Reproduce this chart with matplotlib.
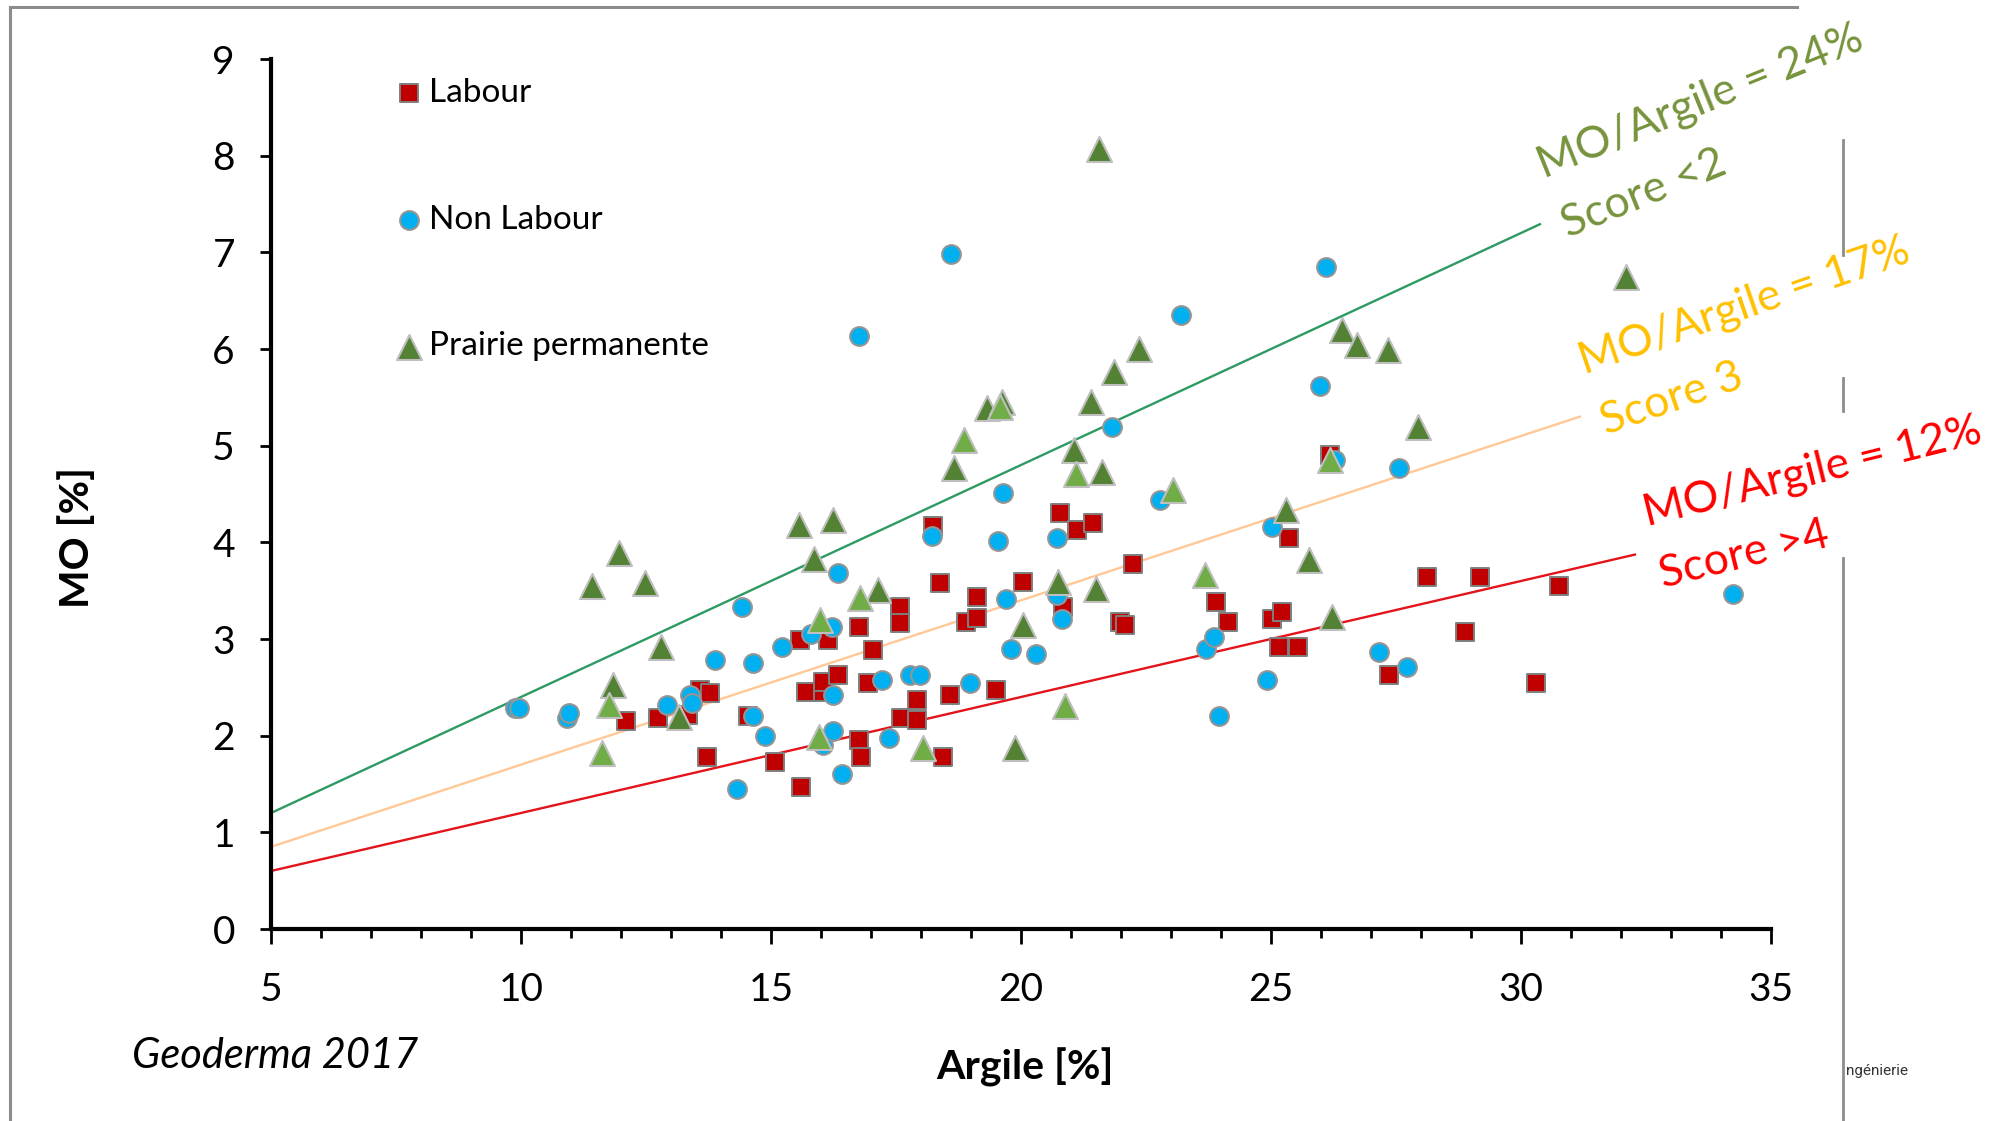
import matplotlib
matplotlib.use("Agg")
import matplotlib.pyplot as plt
from matplotlib.lines import Line2D
import numpy as np

plt.rcParams['font.family'] = ['Lato', 'DejaVu Sans']

# ---------------- data ----------------
labour_x = [12.1, 12.74, 13.34, 13.58, 13.78, 13.72, 14.54, 15.08, 15.6, 15.58, 16.14, 15.7, 16.04, 16.04,
            16.34, 16.76, 16.94, 17.04, 16.76, 16.8, 17.58, 17.58, 17.6, 17.92, 17.92, 18.24, 18.38, 18.44,
            18.58, 18.9, 19.12, 19.12, 19.5, 20.04, 20.78, 20.84, 21.12, 21.44, 21.98, 22.08, 22.24, 23.9,
            24.14, 25.02, 25.16, 25.22, 25.36, 25.54, 26.18, 27.36, 28.12, 28.88, 29.18, 30.3, 30.76]
labour_y = [2.15, 2.18, 2.21, 2.47, 2.44, 1.78, 2.2, 1.73, 1.47, 2.99, 2.99, 2.45, 2.45, 2.56,
            2.63, 3.12, 2.55, 2.89, 1.96, 1.78, 3.33, 3.17, 2.18, 2.37, 2.16, 4.17, 3.58, 1.78,
            2.42, 3.18, 3.43, 3.22, 2.47, 3.59, 4.30, 3.33, 4.13, 4.2, 3.18, 3.15, 3.78, 3.38,
            3.18, 3.21, 2.92, 3.28, 4.04, 2.92, 4.9, 2.63, 3.64, 3.07, 3.64, 2.55, 3.55]

nonlabour_x = [9.88, 9.96, 10.92, 10.96, 12.92, 13.38, 13.42, 13.88, 14.32, 14.42, 14.64, 14.64, 14.88,
               15.22, 15.8, 16.22, 16.04, 16.24, 16.24, 16.34, 16.42, 16.76, 17.22, 17.36, 17.78, 17.98,
               18.22, 18.6, 18.98, 19.54, 19.64, 19.7, 19.8, 20.3, 20.72, 20.72, 20.82, 21.82, 22.78,
               23.2, 23.7, 23.86, 23.96, 24.92, 25.02, 25.98, 26.1, 26.28, 27.16, 27.56, 27.72, 34.24]
nonlabour_y = [2.29, 2.29, 2.18, 2.23, 2.32, 2.42, 2.34, 2.78, 1.45, 3.33, 2.75, 2.2, 2.0,
               2.92, 3.05, 3.12, 1.9, 2.05, 2.42, 3.68, 1.6, 6.13, 2.58, 1.98, 2.63, 2.63,
               4.07, 6.98, 2.55, 4.01, 4.51, 3.41, 2.9, 2.84, 4.04, 3.46, 3.21, 5.19, 4.44,
               6.35, 2.9, 3.02, 2.2, 2.58, 4.16, 5.62, 6.85, 4.85, 2.87, 4.77, 2.71, 3.47]

prairie_x = [11.42, 11.84, 11.96, 12.48, 12.8, 13.16, 15.56, 15.86, 16.24, 17.14, 18.66, 19.32, 19.62,
             20.04, 19.88, 20.74, 21.06, 21.4, 21.5, 21.56, 21.62, 21.86, 22.36, 25.3, 25.76, 26.22,
             26.42, 26.72, 27.34, 27.94, 32.1]
prairie_y = [3.55, 2.52, 3.89, 3.58, 2.92, 2.19, 4.18, 3.83, 4.23, 3.51, 4.77, 5.39, 5.45,
             3.14, 1.87, 3.59, 4.96, 5.45, 3.52, 8.07, 4.73, 5.76, 6.0, 4.33, 3.82, 3.23,
             6.2, 6.04, 5.99, 5.19, 6.75]

prairie2_x = [11.62, 11.76, 15.96, 15.98, 16.78, 18.04, 18.86, 19.58, 20.88, 21.1, 23.04, 23.68, 26.18]
prairie2_y = [1.82, 2.32, 1.99, 3.2, 3.42, 1.87, 5.06, 5.4, 2.31, 4.71, 4.54, 3.66, 4.85]

ratios = [0.24, 0.17, 0.12]
ratio_end_x = [30.4, 31.2, 32.3]
ratio_labels = ["MO/Argile = 24%\nScore <2", "MO/Argile = 17%\nScore 3", "MO/Argile = 12%\nScore >4"]

x_ticks = [5, 10, 15, 20, 25, 30, 35]
y_ticks = [0, 1, 2, 3, 4, 5, 6, 7, 8, 9]

# ---------------- figure ----------------
W, H = 2004, 1121
fig = plt.figure(figsize=(W / 100, H / 100), dpi=100)
fig.patch.set_facecolor('white')


def fx(px):
    return px / W


def fy(py):
    return 1 - py / H


ax = fig.add_axes([fx(271), fy(929), (1771 - 271) / W, (929 - 59) / H])

line_colors = ['#2E9A63', '#FFC896', '#E4121A']
text_colors = ['#77933C', '#FFC000', '#FF0000']
for r, xe, c in zip(ratios, ratio_end_x, line_colors):
    xs = np.array([5.0, xe])
    ax.plot(xs, r * xs, color=c, lw=1.7, zorder=2, solid_capstyle='butt')

ax.scatter(labour_x, labour_y, marker='s', s=13 ** 2, c='#C00000', edgecolors='#7F7F7F',
           linewidths=1.4, zorder=3, label='Labour')
ax.scatter(nonlabour_x, nonlabour_y, marker='o', s=13.5 ** 2, c='#00B0F0', edgecolors='#959595',
           linewidths=1.5, zorder=4, label='Non Labour')
ax.scatter(prairie_x, prairie_y, marker='^', s=18 ** 2, c='#548235', edgecolors='#BFBFBF',
           linewidths=1.5, zorder=5, label='Prairie permanente')
ax.scatter(prairie2_x, prairie2_y, marker='^', s=18 ** 2, c='#70AD47', edgecolors='#BFBFBF',
           linewidths=1.5, zorder=6)

ax.set_xlim(5, 35)
ax.set_ylim(0, 9)
ax.set_xticks(x_ticks)
ax.set_xticks(np.arange(5, 36, 1), minor=True)
ax.set_yticks(y_ticks)
ax.tick_params(axis='x', which='major', direction='out', length=11, width=2, labelsize=28, pad=20)
ax.tick_params(axis='x', which='minor', direction='out', length=6.5, width=2)
ax.tick_params(axis='y', which='major', direction='out', length=8, width=2, labelsize=28, pad=18)
for side in ['top', 'right']:
    ax.spines[side].set_visible(False)
for side in ['left', 'bottom']:
    ax.spines[side].set_linewidth(3)
    ax.spines[side].set_color('black')

ax.set_xlabel('Argile [%]', fontsize=29.5, fontweight='bold')
ax.xaxis.set_label_coords((1025 - 271) / 1500, (929 - 1067) / 870)
ax.xaxis.label.set_va('center')
ax.set_ylabel('MO [%]', fontsize=29.5, fontweight='bold')
ax.yaxis.set_label_coords((77 - 271) / 1500, (929 - 537) / 870)
ax.yaxis.label.set_va('center')

leg = ax.legend(loc='upper left', bbox_to_anchor=((392 - 271) / 1500, (929 - 78) / 870),
                frameon=False, fontsize=24, borderaxespad=0, borderpad=0, handlelength=1.0,
                handletextpad=0.1, labelspacing=2.9, scatterpoints=1, markerscale=1.0)

# annotations of the ratio lines (anchor = baseline start of the "Score" line)
anchors = [(1559, 217, 22), (1598, 413, 19), (1657, 566, 14)]
for (px, py, rot), lab, c in zip(anchors, ratio_labels, text_colors):
    fig.text(fx(px), fy(py), lab, color=c, fontsize=32, rotation=rot, rotation_mode='anchor',
             ha='left', va='baseline', multialignment='left', linespacing=1.7)

fig.text(fx(132), fy(1056), 'Geoderma 2017', fontsize=30, style='italic', ha='left', va='center')
fig.text(fx(1846), fy(1071), 'ngénierie', fontsize=11, family=['Roboto', 'DejaVu Sans'],
         ha='left', va='center', color='#333333')

# slide frame lines
frame_c = '#8C8C8C'
fig.add_artist(Line2D([fx(10), fx(1797)], [fy(7), fy(7)], transform=fig.transFigure, color=frame_c, lw=2.2))
fig.add_artist(Line2D([fx(10), fx(10)], [fy(7), fy(1121)], transform=fig.transFigure, color=frame_c, lw=2.2))
for y0, y1 in [(140, 255), (378, 411), (558, 1121)]:
    fig.add_artist(Line2D([fx(1843), fx(1843)], [fy(y0), fy(y1)], transform=fig.transFigure,
                          color=frame_c, lw=2.0))

fig.savefig('out.png', dpi=100, facecolor='white')
